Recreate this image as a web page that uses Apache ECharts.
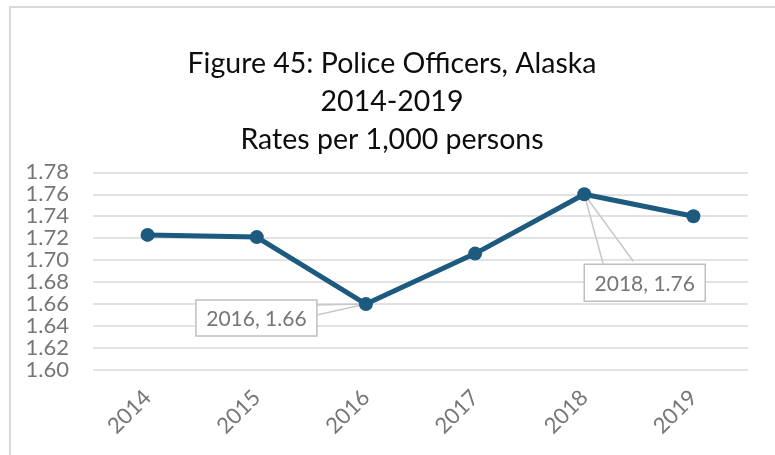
<!DOCTYPE html>
<html>
<head>
<meta charset="utf-8">
<script src="https://cdn.jsdelivr.net/npm/echarts@6/dist/echarts.min.js"></script>
<style>
  html, body { margin: 0; padding: 0; background: #fff; }
  #chart { width: 775px; height: 455px; }
</style>
</head>
<body>
<div id="chart"></div>
<script>
// Police officers per 1,000 persons, Alaska
const years = ['2014', '2015', '2016', '2017', '2018', '2019'];
const rates = [1.723, 1.721, 1.66, 1.706, 1.76, 1.74];
const yTicks = [1.60, 1.62, 1.64, 1.66, 1.68, 1.70, 1.72, 1.74, 1.76, 1.78];
const titleLines = ['Figure 45: Police Officers, Alaska', '2014-2019', 'Rates per 1,000 persons'];
// years that carry a value callout
const calloutYears = ['2016', '2018'];

const FONT = 'Lato, "Open Sans", sans-serif';
const LINE = '#1d5a80';
const GRAY_TEXT = '#767676';
const GRID = '#d9d9d9';

const chart = echarts.init(document.getElementById('chart'), null, { renderer: 'canvas' });

chart.setOption({
  animation: false,
  backgroundColor: '#fff',
  title: {
    text: titleLines.join('\n'),
    left: 387,
    top: 40,
    textAlign: 'center',
    textStyle: { fontFamily: FONT, fontSize: 28.5, fontWeight: 'normal', color: '#0d0d0d', lineHeight: 38 }
  },
  grid: { left: 93, right: 27, top: 172.3, bottom: 85 },
  xAxis: {
    type: 'category',
    data: years,
    boundaryGap: true,
    axisLine: { show: false },
    axisTick: { show: false },
    axisLabel: { rotate: 45, margin: 24, fontFamily: FONT, fontSize: 22, color: GRAY_TEXT }
  },
  yAxis: {
    type: 'value',
    min: yTicks[0],
    max: yTicks[yTicks.length - 1],
    interval: 0.02,
    axisLine: { show: false },
    axisTick: { show: false },
    splitLine: { lineStyle: { color: GRID, width: 1.5 } },
    axisLabel: {
      margin: 24, fontFamily: FONT, fontSize: 22, color: GRAY_TEXT,
      formatter: v => v.toFixed(2)
    }
  },
  series: [{
    type: 'line',
    data: rates,
    z: 3,
    symbol: 'circle',
    symbolSize: 14,
    lineStyle: { color: LINE, width: 5 },
    itemStyle: { color: LINE }
  }]
});

// Callout boxes with a pointer wedge, placed relative to each marked point
function drawCallouts() {
  const specs = {
    '2016': { box: [-170, -4, 121, 36], wedge: [[-49, 1], [-49, 11]] },
    '2018': { box: [0, 70, 121, 37], wedge: [[19, 70], [49, 67]] }
  };
  const elements = [];
  calloutYears.forEach(y => {
    const i = years.indexOf(y);
    const p = chart.convertToPixel({ seriesIndex: 0 }, [i, rates[i]]);
    const s = specs[y];
    const [bx, by, bw, bh] = s.box;
    elements.push({
      type: 'rect', z: 1,
      shape: { x: p[0] + bx, y: p[1] + by, width: bw, height: bh },
      style: { fill: '#fff', stroke: '#bfbfbf', lineWidth: 1.5 }
    });
    s.wedge.forEach(w => {
      elements.push({
        type: 'line', z: 1,
        shape: { x1: p[0] + w[0], y1: p[1] + w[1], x2: p[0], y2: p[1] },
        style: { stroke: '#c8c8c8', lineWidth: 1.5 }
      });
    });
    elements.push({
      type: 'text', z: 1,
      x: p[0] + bx + bw / 2, y: p[1] + by + bh / 2 + 1,
      style: {
        text: y + ', ' + rates[i].toFixed(2),
        fontFamily: FONT, fontSize: 21, fill: GRAY_TEXT,
        align: 'center', verticalAlign: 'middle'
      }
    });
  });
  // outer chart frame
  elements.push({
    type: 'polyline', z: 0,
    shape: { points: [[10, 455], [10, 7], [775, 7]] },
    style: { stroke: '#d9d9d9', lineWidth: 2, fill: null }
  });
  chart.setOption({ graphic: elements });
}
drawCallouts();
</script>
</body>
</html>
